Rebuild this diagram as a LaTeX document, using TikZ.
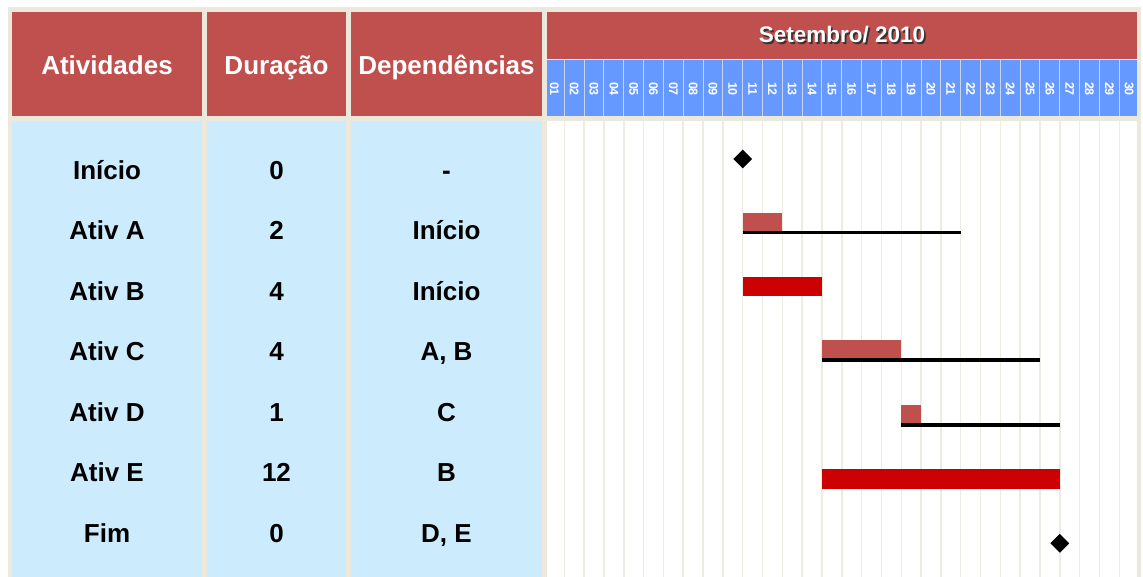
\documentclass[tikz,border=0pt]{standalone}
\usepackage{fontspec}
\setmainfont{Liberation Sans}
\usetikzlibrary{shapes.geometric}
\definecolor{hdrred}{HTML}{C0504D}
\definecolor{bodyblue}{HTML}{CCEBFC}
\definecolor{dayblue}{HTML}{6699FF}
\definecolor{critred}{HTML}{CC0000}
\definecolor{framec}{HTML}{ECE9DC}
\definecolor{gridc}{HTML}{EEEBE0}
\definecolor{daysepc}{HTML}{C9D4EE}

\begin{document}
\begin{tikzpicture}[x=1pt,y=-1pt,
  hdrtext/.style={text=white,font=\fontsize{26}{30}\selectfont\bfseries,anchor=base,inner sep=0pt},
  celltext/.style={font=\fontsize{26}{30}\selectfont\bfseries,anchor=base,inner sep=0pt},
  monthtext/.style={font=\fontsize{22.5}{26}\selectfont\bfseries,anchor=base,inner sep=0pt},
  daytext/.style={text=white,font=\fontsize{12.5}{14}\selectfont\bfseries,rotate=-90,inner sep=0pt},
  gridline/.style={draw=gridc,line width=1.5pt},
  daysep/.style={draw=daysepc,line width=1pt},
  slack/.style={line width=3.3pt},
  milestone/.style={diamond,fill=black,inner sep=0pt,minimum size=19pt}]
\useasboundingbox (0,0) rectangle (1143,577);
\fill[white] (0,0) rectangle (1143,577);
\fill[framec] (8,7) rectangle (1141,577);
\fill[hdrred] (12,12) rectangle (202,116);
\fill[hdrred] (207,12) rectangle (346,116);
\fill[hdrred] (351,12) rectangle (542,116);
\fill[hdrred] (547,12) rectangle (1137,59);
\fill[dayblue] (547,60) rectangle (1137,116);
\fill[bodyblue] (12,121) rectangle (202,577);
\fill[bodyblue] (207,121) rectangle (346,577);
\fill[bodyblue] (351,121) rectangle (542,577);
\fill[white] (547,121) rectangle (1137,577);
\node[hdrtext] (hatv) at (107,75) {Atividades};
\node[hdrtext] (hdur) at (276.5,75) {Duração};
\node[hdrtext] (hdep) at (446.5,75) {Dependências};
\node[monthtext,text=black!80] (mshadow) at (843.8,44.8) {Setembro/ 2010};
\node[monthtext,text=white] (month) at (842,43) {Setembro/ 2010};
\foreach \atv/\dur/\dep [count=\i from 0] in {Início/0/-,Ativ A/2/Início,Ativ B/4/Início,Ativ C/4/{A, B},Ativ D/1/C,Ativ E/12/B,Fim/0/{D, E}}{
  \node[celltext] (atv\i) at (107,179.5+60.45*\i) {\atv};
  \node[celltext] (dur\i) at (276.5,179.5+60.45*\i) {\dur};
  \node[celltext] (dep\i) at (446.5,179.5+60.45*\i) {\dep};
}
\begin{scope}[xshift=544.48pt,x=19.82pt]
\foreach \k in {1,...,29}{
  \draw[daysep] (\k,60) -- (\k,116);
  \draw[gridline] (\k,121) -- (\k,577);
}
\foreach \k in {1,...,30}
  \node[daytext] (d\k) at (\k-0.5,89) {\ifnum\k<10 0\fi\k};
\node[milestone] (ini) at (10,159) {};
\fill[hdrred] (10,213) rectangle (12,230.7);
\draw[slack] (10,232.3) -- (21,232.3);
\fill[critred] (10,277) rectangle (14,295.7);
\fill[hdrred] (14,340.3) rectangle (18,358.3);
\draw[slack] (14,359.9) -- (25,359.9);
\fill[hdrred] (18,404.7) rectangle (19,423.3);
\draw[slack] (18,424.9) -- (26,424.9);
\fill[critred] (14,469.3) rectangle (26,488.7);
\node[milestone] (fim) at (26,543.3) {};
\end{scope}
\end{tikzpicture}
\end{document}
